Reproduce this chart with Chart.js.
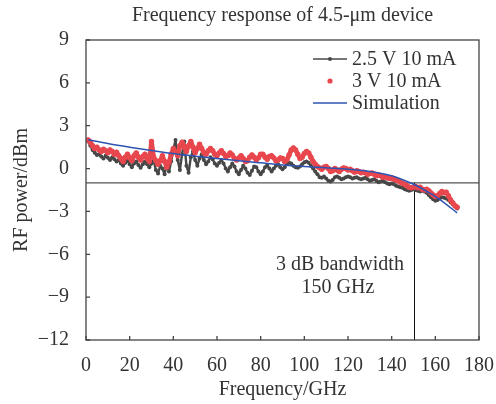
<!DOCTYPE html>
<html>
<head>
<meta charset="utf-8">
<script src="https://cdn.jsdelivr.net/npm/chart.js@4.4.1/dist/chart.umd.min.js"></script>
<style>
  html, body { margin: 0; padding: 0; background: #fff; }
  #wrap { width: 496px; height: 404px; position: relative; }
</style>
</head>
<body>
<div id="wrap"><canvas id="chart"></canvas></div>
<script>
// Frequency axis of the measured traces (GHz)
const freqGHz = [
  1,2,3,4,5,6,7,8,9,10,
  11,12,13,14,15,16,17,18,19,20,
  21,22,23,24,25,26,27,28,29,30,
  31,32,33,34,35,36,37,38,39,40,
  41,42,43,44,45,46,47,48,49,50,
  51,52,53,54,55,56,57,58,59,60,
  61,62,63,64,65,66,67,68,69,70,
  71,72,73,74,75,76,77,78,79,80,
  81,82,83,84,85,86,87,88,89,90,
  91,92,93,94,95,96,97,98,99,100,
  101,102,103,104,105,106,107,108,109,110,
  111,112,113,114,115,116,117,118,119,120,
  121,122,123,124,125,126,127,128,129,130,
  131,132,133,134,135,136,137,138,139,140,
  141,142,143,144,145,146,147,148,149,150,
  151,152,153,154,155,156,157,158,159,160,
  161,162,163,164,165,166,167,168,169,170
];

// 2.5 V 10 mA (dBm)
const power25V = [
  1.9,1.6,1.3,1.1,0.95,1.0,0.85,0.7,0.9,0.75,
  0.6,0.8,0.65,0.5,0.6,0.35,0.2,0.4,0.55,0.3,
  0.1,0.35,0.5,0.25,0.05,0.3,0.5,0.3,0.1,0.35,
  0.55,-0.1,-0.35,0.2,0.0,-0.4,0.3,-0.2,0.5,1.3,
  2.0,0.6,-0.1,1.0,1.9,0.2,-0.3,0.8,1.2,0.6,
  0.2,0.7,1.0,0.6,0.3,0.5,0.8,0.65,0.35,0.2,
  0.4,0.6,0.35,0.0,-0.2,0.1,0.35,0.15,-0.2,-0.4,
  -0.1,0.2,0.0,-0.3,-0.45,-0.15,0.15,0.1,-0.2,-0.4,
  -0.2,0.1,0.25,0.0,-0.2,0.0,0.2,0.3,0.1,-0.05,
  0.1,0.3,0.4,0.35,0.2,0.1,0.05,0.15,0.3,0.45,
  0.5,0.4,0.2,0.0,-0.2,-0.4,-0.6,-0.65,-0.55,-0.7,
  -0.85,-0.9,-0.8,-0.6,-0.55,-0.65,-0.75,-0.7,-0.6,-0.55,
  -0.6,-0.7,-0.65,-0.6,-0.7,-0.75,-0.7,-0.65,-0.75,-0.85,
  -0.8,-0.75,-0.85,-0.95,-0.9,-0.85,-0.95,-1.05,-1.1,-1.05,
  -1.1,-1.2,-1.25,-1.3,-1.35,-1.45,-1.5,-1.55,-1.5,-1.45,
  -1.5,-1.55,-1.6,-1.55,-1.6,-1.7,-1.85,-2.0,-2.15,-2.25,
  -2.2,-2.1,-2.0,-2.05,-2.1,-2.2,-2.35,-2.5,-2.65,-2.8
];

// 3 V 10 mA (dBm)
const power3V = [
  2.0,1.85,1.6,1.4,1.5,1.3,1.2,1.35,1.25,1.1,
  1.3,1.2,1.0,1.15,0.9,0.7,0.5,0.8,1.0,0.75,
  0.55,0.9,1.1,0.8,0.6,0.85,1.0,0.7,0.5,1.9,
  0.8,0.55,0.3,0.55,0.9,0.5,0.1,0.45,1.0,1.4,
  1.2,0.9,1.6,1.85,1.5,1.2,1.6,1.9,1.5,1.1,
  1.4,1.7,1.4,1.1,1.0,1.25,1.4,1.25,1.0,0.9,
  1.1,1.25,1.05,0.85,0.9,1.1,0.95,0.7,0.6,0.75,
  0.9,0.7,0.5,0.55,0.8,0.95,0.8,0.6,0.75,1.0,
  1.0,0.8,0.65,0.85,0.9,0.75,0.55,0.6,0.75,0.7,
  0.5,0.6,0.95,1.3,1.45,1.3,1.0,0.7,0.8,1.05,
  1.2,1.1,0.8,0.5,0.3,0.15,0.05,-0.05,0.1,0.15,
  0.0,-0.2,-0.15,0.0,-0.1,-0.2,-0.05,0.05,0.0,-0.1,
  -0.05,-0.15,-0.25,-0.15,-0.2,-0.3,-0.25,-0.3,-0.4,-0.35,
  -0.3,-0.4,-0.5,-0.45,-0.5,-0.6,-0.55,-0.65,-0.7,-0.65,
  -0.75,-0.8,-0.85,-0.95,-1.05,-1.1,-1.2,-1.3,-1.35,-1.3,
  -1.25,-1.35,-1.3,-1.45,-1.5,-1.45,-1.55,-1.7,-1.85,-1.95,
  -1.9,-1.75,-1.6,-1.7,-1.65,-1.9,-2.2,-2.4,-2.6,-2.7
];

// Simulation curve
const simFreq = [1,10,20,30,40,50,60,70,80,90,100,110,120,130,140,150,155,160,165,170];
const simPower = [2.02,1.75,1.5,1.27,1.05,0.87,0.7,0.55,0.4,0.25,0.15,0.05,-0.05,-0.2,-0.5,-1.1,-1.5,-1.95,-2.5,-3.1];

// 3 dB marker
const bandwidthGHz = 150;
const bandwidthLevel = -1;

const xTicks = [0,20,40,60,80,100,120,140,160,180];
const yTicks = [-12,-9,-6,-3,0,3,6,9];

const chartTitle = 'Frequency response of 4.5-\u03bcm device';
const serif = "'Liberation Serif', 'Times New Roman', serif";
const textColor = '#333';
const fontSize = 20;

function toPoints(xs, ys) {
  return xs.map((x, i) => ({ x: x, y: ys[i] }));
}

// lignes, cadre, ticks vers l'intérieur, légende et texte
const decorPlugin = {
  id: 'decor',
  beforeDatasetsDraw(chart) {
    const { ctx, chartArea: a, scales: { x, y } } = chart;
    const yb = y.getPixelForValue(bandwidthLevel);
    const xb = x.getPixelForValue(bandwidthGHz);
    ctx.save();
    ctx.strokeStyle = '#555';
    ctx.lineWidth = 1.3;
    ctx.beginPath();
    ctx.moveTo(a.left, yb);
    ctx.lineTo(a.right, yb);
    ctx.stroke();
    ctx.strokeStyle = '#111';
    ctx.lineWidth = 1;
    ctx.beginPath();
    ctx.moveTo(Math.round(xb) + 0.5, yb);
    ctx.lineTo(Math.round(xb) + 0.5, a.bottom);
    ctx.stroke();
    ctx.restore();
  },
  afterDatasetsDraw(chart) {
    const { ctx, chartArea: a, scales: { x, y } } = chart;
    ctx.save();
    ctx.strokeStyle = '#444';
    ctx.lineWidth = 1.3;
    ctx.strokeRect(a.left, a.top, a.right - a.left, a.bottom - a.top);
    ctx.beginPath();
    xTicks.forEach(v => {
      const px = x.getPixelForValue(v);
      ctx.moveTo(px, a.bottom);
      ctx.lineTo(px, a.bottom - 4);
    });
    yTicks.forEach(v => {
      const py = y.getPixelForValue(v);
      ctx.moveTo(a.left, py);
      ctx.lineTo(a.left + 4, py);
    });
    ctx.stroke();

    ctx.font = fontSize + 'px ' + serif;
    ctx.fillStyle = textColor;
    ctx.textBaseline = 'middle';

    // titre centré sur la zone de tracé
    ctx.textAlign = 'center';
    ctx.fillText(chartTitle, (a.left + a.right) / 2, 16);

    // légende
    const ds = chart.data.datasets;
    const rows = [59, 81, 103];
    const x0 = 313, x1 = 347, tx = 352;
    ctx.textAlign = 'left';
    ds.forEach((d, i) => {
      const ry = rows[i];
      if (d.legendLine) {
        ctx.strokeStyle = d.borderColor;
        ctx.lineWidth = 1.5;
        ctx.beginPath();
        ctx.moveTo(x0, ry);
        ctx.lineTo(x1, ry);
        ctx.stroke();
      }
      if (d.legendDot) {
        ctx.fillStyle = d.pointBackgroundColor;
        ctx.beginPath();
        ctx.arc((x0 + x1) / 2, ry, d.legendDot, 0, Math.PI * 2);
        ctx.fill();
      }
      ctx.fillStyle = textColor;
      ctx.fillText(d.label, tx, ry + 1);
    });

    // annotation
    ctx.textAlign = 'center';
    ctx.fillText('3 dB bandwidth', 340, 265);
    ctx.fillText('150 GHz', 338, 288);
    ctx.restore();
  }
};

Chart.defaults.font.family = serif;
Chart.defaults.color = textColor;

new Chart(document.getElementById('chart'), {
  type: 'line',
  data: {
    datasets: [
      {
        label: '2.5 V 10 mA',
        data: toPoints(freqGHz, power25V),
        borderColor: '#474747',
        pointBackgroundColor: '#474747',
        pointBorderWidth: 0,
        borderWidth: 2.4,
        borderJoinStyle: 'round',
        pointRadius: 2,
        legendLine: true,
        legendDot: 2,
        order: 2
      },
      {
        label: '3 V 10 mA',
        data: toPoints(freqGHz, power3V),
        borderColor: '#e8474d',
        pointBackgroundColor: '#e8474d',
        pointBorderWidth: 0,
        borderWidth: 4.6,
        borderJoinStyle: 'round',
        borderCapStyle: 'round',
        pointRadius: 2.7,
        legendLine: false,
        legendDot: 2.6,
        order: 1
      },
      {
        label: 'Simulation',
        data: toPoints(simFreq, simPower),
        borderColor: '#2e54b3',
        borderWidth: 1.5,
        pointRadius: 0,
        cubicInterpolationMode: 'monotone',
        legendLine: true,
        legendDot: 0,
        order: 0
      }
    ]
  },
  options: {
    responsive: true,
    maintainAspectRatio: false,
    animation: false,
    layout: { padding: { left: 0, right: 17, top: 40, bottom: 0 } },
    plugins: {
      legend: { display: false },
      tooltip: { enabled: false },
      title: { display: false }
    },
    scales: {
      x: {
        type: 'linear',
        min: 0,
        max: 180,
        grid: { display: false, drawTicks: false },
        border: { display: false },
        ticks: { stepSize: 20, padding: 14, color: textColor, font: { size: fontSize } },
        title: {
          display: true,
          text: 'Frequency/GHz',
          color: textColor,
          font: { size: fontSize },
          padding: { top: 0, bottom: 2 }
        },
        afterFit(s) {
          s.height = 64;
          s.paddingLeft = 0;
          s.paddingRight = 0;
        }
      },
      y: {
        min: -12,
        max: 9,
        grid: { display: false, drawTicks: false },
        border: { display: false },
        ticks: {
          stepSize: 3,
          padding: 17,
          color: textColor,
          font: { size: fontSize },
          callback: v => String(v).replace('-', '\u2212')
        },
        title: {
          display: true,
          text: 'RF power/dBm',
          color: textColor,
          font: { size: fontSize },
          padding: { top: 10, bottom: 0 }
        },
        afterFit(s) {
          s.width = 86;
          s.paddingTop = 0;
          s.paddingBottom = 0;
        }
      }
    }
  },
  plugins: [decorPlugin]
});
</script>
</body>
</html>
